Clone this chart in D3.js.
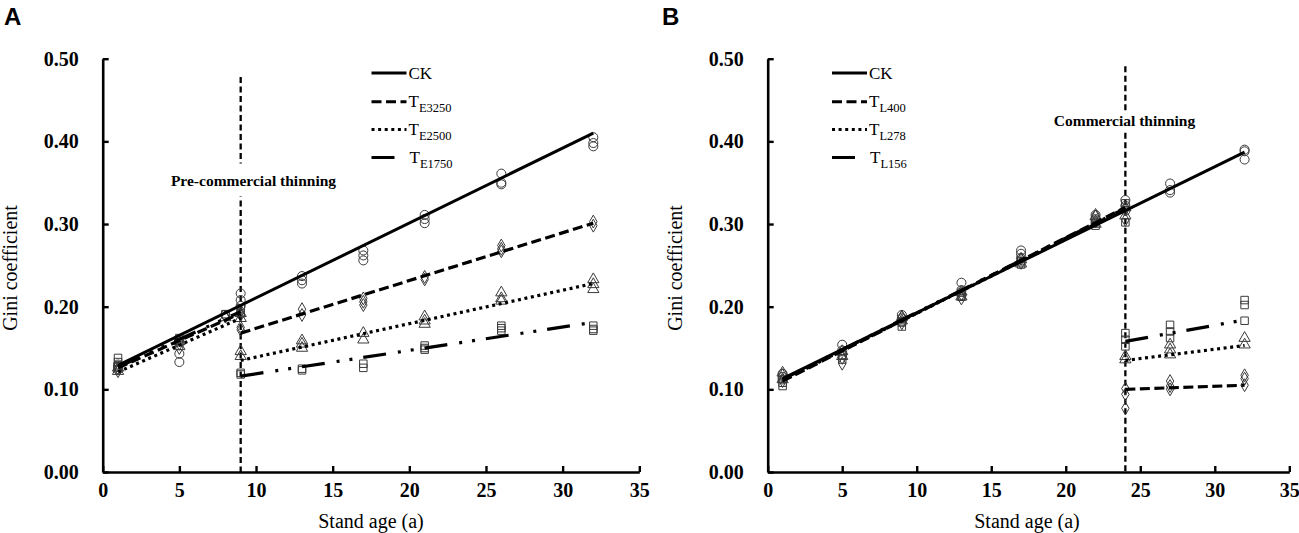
<!DOCTYPE html>
<html>
<head>
<meta charset="utf-8">
<script src="https://cdn.jsdelivr.net/npm/d3@7"></script>
<style>
  html, body { margin: 0; padding: 0; background: #fff; }
  svg { display: block; }
  svg text { font-family: "Liberation Serif", "Times New Roman", Times, "DejaVu Serif", "Noto Serif", serif; fill: #000; }
</style>
</head>
<body>
<svg id="chart" width="1299" height="533"></svg>
<script>
// ---------------- DATA ----------------
const xTicks = [0, 5, 10, 15, 20, 25, 30, 35];
const yTicks = [0, 0.1, 0.2, 0.3, 0.4, 0.5];

// Panel A (pre-commercial thinning at age 9)
const legendA = ["CK", "E3250", "E2500", "E1750"];
const thinAgeA = 9;
const thinLabelA = "Pre-commercial thinning";
const ckPointsA = [[1,0.127],[1,0.124],[1,0.130],[5,0.143],[5,0.133],[5,0.160],[8,0.190],
  [9,0.216],[9,0.208],[9,0.201],[13,0.237],[13,0.232],[13,0.228],[17,0.268],[17,0.262],[17,0.256],
  [21,0.311],[21,0.306],[21,0.301],[26,0.361],[26,0.350],[26,0.348],[32,0.405],[32,0.398],[32,0.394]];
const e3250PointsA = [[1,0.125],[1,0.122],[5,0.155],[5,0.150],[8,0.188],[9,0.195],[9,0.190],
  [9,0.175],[9,0.172],[13,0.197],[13,0.190],[17,0.210],[17,0.206],[17,0.202],[21,0.236],[21,0.233],
  [26,0.274],[26,0.270],[26,0.267],[32,0.303],[32,0.298]];
const e2500PointsA = [[1,0.122],[1,0.126],[5,0.158],[5,0.152],[8,0.187],[9,0.192],[9,0.186],
  [9,0.146],[9,0.140],[13,0.159],[13,0.155],[13,0.150],[17,0.168],[17,0.160],[21,0.188],[21,0.183],[21,0.179],
  [26,0.217],[26,0.210],[26,0.207],[32,0.233],[32,0.227],[32,0.221]];
const e1750PointsA = [[1,0.138],[1,0.133],[1,0.128],[5,0.162],[5,0.157],[8,0.191],[9,0.198],[9,0.192],
  [9,0.120],[9,0.118],[13,0.125],[13,0.123],[17,0.131],[17,0.126],[21,0.153],[21,0.150],[21,0.148],
  [26,0.177],[26,0.174],[26,0.171],[32,0.177],[32,0.173],[32,0.171]];
// fitted trend segments [startAge, startValue, endAge, endValue]
const ckFitA = [[1,0.129,32,0.410]];
const e3250FitA = [[1,0.126,9,0.192],[9,0.168,32,0.301]];
const e2500FitA = [[1,0.121,9,0.186],[9,0.135,32,0.228]];
const e1750FitA = [[1,0.127,9,0.194],[9,0.116,32,0.181]];

// Panel B (commercial thinning at age 24)
const legendB = ["CK", "L400", "L278", "L156"];
const thinAgeB = 24;
const thinLabelB = "Commercial thinning";
const ckPointsB = [[1,0.119],[1,0.115],[1,0.112],[5,0.154],[5,0.147],[5,0.142],[9,0.190],[9,0.186],[9,0.182],
  [13,0.229],[13,0.220],[13,0.214],[17,0.268],[17,0.264],[17,0.259],[22,0.311],[22,0.306],[22,0.302],
  [24,0.329],[24,0.322],[24,0.316],[27,0.349],[27,0.341],[27,0.338],[32,0.390],[32,0.388],[32,0.378]];
const l400PointsB = [[1,0.117],[1,0.110],[5,0.138],[5,0.131],[9,0.188],[9,0.180],[13,0.215],[13,0.210],
  [17,0.258],[17,0.253],[22,0.311],[22,0.303],[24,0.318],[24,0.305],
  [24,0.101],[24,0.094],[24,0.077],[27,0.110],[27,0.104],[27,0.100],[32,0.117],[32,0.113],[32,0.105]];
const l278PointsB = [[1,0.120],[1,0.112],[5,0.146],[5,0.140],[9,0.187],[9,0.183],[13,0.218],[13,0.212],
  [17,0.257],[17,0.252],[22,0.309],[22,0.300],[24,0.320],[24,0.310],
  [24,0.140],[24,0.136],[27,0.154],[27,0.148],[27,0.142],[32,0.162],[32,0.154]];
const l156PointsB = [[1,0.108],[1,0.104],[5,0.141],[5,0.136],[9,0.181],[9,0.176],[13,0.217],[13,0.212],
  [17,0.255],[17,0.251],[22,0.305],[22,0.298],[24,0.325],[24,0.302],
  [24,0.168],[24,0.160],[24,0.152],[27,0.178],[27,0.170],[27,0.162],[32,0.208],[32,0.202],[32,0.183]];
const ckFitB = [[1,0.113,32,0.387]];
const l400FitB = [[1,0.110,24,0.320],[24,0.100,32,0.105]];
const l278FitB = [[1,0.111,24,0.318],[24,0.135,32,0.153]];
const l156FitB = [[1,0.112,24,0.319],[24,0.158,32,0.184]];

// ---------------- STYLE ----------------
const SERIF = '"Liberation Serif", "Times New Roman", Times, "DejaVu Serif", "Noto Serif", serif';
const dashStyles = ["none", "10,4.5", "3,3.6", "23,12,3,10,3,11"];
const symbolTypes = [d3.symbolCircle, d3.symbolDiamond, d3.symbolTriangle, d3.symbolSquare];
const symbolSizes = [64, 48, 55, 56];

const svg = d3.select("#chart");
const y = d3.scaleLinear().domain([0, 0.5]).range([472, 58.7]);

function panel(cfg) {
  const x = d3.scaleLinear().domain([0, 35]).range(cfg.range);
  const g = svg.append("g").attr("font-family", SERIF);

  // thinning vertical dashed line
  g.append("line")
    .attr("x1", x(cfg.thinAge)).attr("x2", x(cfg.thinAge))
    .attr("y1", y(cfg.thinTop)).attr("y2", y(0))
    .attr("stroke", "#000").attr("stroke-width", 2.3)
    .attr("stroke-dasharray", "6,3.5");

  const lab = g.append("text")
    .attr("x", cfg.labelX).attr("y", cfg.labelY)
    .attr("text-anchor", "middle")
    .style("font-family", SERIF)
    .style("font-size", "15.5px").style("font-weight", "bold")
    .text(cfg.thinLabel);
  const bb = lab.node().getBBox();
  g.insert("rect", "text")
    .attr("x", bb.x - 2).attr("y", bb.y - cfg.labelPad)
    .attr("width", bb.width + 4).attr("height", bb.height + 2 * cfg.labelPad)
    .attr("fill", "#fff");

  // markers
  cfg.points.forEach((pts, i) => {
    g.append("g").selectAll("path").data(pts).join("path")
      .attr("transform", d => `translate(${x(d[0])},${y(d[1])})`)
      .attr("d", d3.symbol().type(symbolTypes[i]).size(symbolSizes[i]))
      .attr("fill", "none").attr("stroke", "#3a3a3a").attr("stroke-width", 1);
  });

  // fitted lines (draw from last to first so CK is on top)
  const line = d3.line().x(d => x(d[0])).y(d => y(d[1]));
  for (let i = cfg.fits.length - 1; i >= 0; i--) {
    cfg.fits[i].forEach(s => {
      g.append("path")
        .attr("d", line([[s[0], s[1]], [s[2], s[3]]]))
        .attr("fill", "none").attr("stroke", "#000")
        .attr("stroke-width", i === 0 ? 3 : 3.2)
        .attr("stroke-dasharray", dashStyles[i]);
    });
  }

  // axes
  const ax = g.append("g").attr("transform", `translate(0,${y(0)})`)
    .call(d3.axisBottom(x).tickValues(xTicks).tickSizeInner(-6).tickSizeOuter(0).tickPadding(11)
      .tickFormat(d3.format("d")));
  const ay = g.append("g").attr("transform", `translate(${x(0)},0)`)
    .call(d3.axisLeft(y).tickValues(yTicks).tickSizeInner(-6).tickSizeOuter(0).tickPadding(24)
      .tickFormat(d3.format(".2f")));
  [ax, ay].forEach(a => {
    a.attr("font-family", SERIF).attr("font-size", 20).attr("font-weight", "bold");
    a.select(".domain").attr("stroke", "#000").attr("stroke-width", 2.6);
    a.selectAll(".tick line").attr("stroke", "#000").attr("stroke-width", 2.4);
    a.selectAll(".tick text")
      .style("font-family", SERIF)
      .style("font-size", "20px").style("font-weight", "bold").attr("fill", "#000");
  });

  // axis titles
  g.append("text")
    .attr("x", cfg.xTitleX).attr("y", 528)
    .attr("text-anchor", "middle").style("font-family", SERIF).style("font-size", "20px")
    .text("Stand age (a)");
  g.append("text")
    .attr("transform", `translate(${cfg.yTitleX},268) rotate(-90)`)
    .attr("text-anchor", "middle").style("font-family", SERIF).style("font-size", "20px")
    .text("Gini coefficient");

  // panel letter
  g.append("text")
    .attr("x", cfg.letterX).attr("y", 25)
    .style("font-family", '"Liberation Sans", Arial, sans-serif')
    .style("font-size", "24px").style("font-weight", "bold")
    .text(cfg.letter);

  // legend
  const rowY = [73, 101.7, 129.6, 157.5];
  cfg.legend.forEach((name, i) => {
    const ly = rowY[i];
    g.append("line")
      .attr("x1", cfg.legX).attr("x2", i === 3 ? cfg.legX + 26 : cfg.legX + 35)
      .attr("y1", ly).attr("y2", ly)
      .attr("stroke", "#000").attr("stroke-width", 3)
      .attr("stroke-dasharray", dashStyles[i]);
    const t = g.append("text")
      .attr("x", cfg.legX + (i === 3 ? 38 : 37)).attr("y", ly + 5.5)
      .style("font-family", SERIF)
      .style("font-size", "17px");
    if (i === 0) {
      t.text(name);
    } else {
      t.append("tspan").text("T");
      t.append("tspan").attr("dy", 5).style("font-size", "12.5px").text(name);
    }
  });
}

panel({
  range: [102.7, 639.3], letter: "A", letterX: 4,
  thinAge: thinAgeA, thinTop: 0.478, thinLabel: thinLabelA,
  labelX: 253.5, labelY: 185.5, labelPad: 8,
  points: [ckPointsA, e3250PointsA, e2500PointsA, e1750PointsA],
  fits: [ckFitA, e3250FitA, e2500FitA, e1750FitA],
  legend: legendA, legX: 371.5,
  xTitleX: 371, yTitleX: 17
});
panel({
  range: [767.7, 1289.3], letter: "B", letterX: 662,
  thinAge: thinAgeB, thinTop: 0.491, thinLabel: thinLabelB,
  labelX: 1124.5, labelY: 126, labelPad: 1,
  points: [ckPointsB, l400PointsB, l278PointsB, l156PointsB],
  fits: [ckFitB, l400FitB, l278FitB, l156FitB],
  legend: legendB, legX: 832,
  xTitleX: 1027, yTitleX: 682
});
</script>
</body>
</html>
